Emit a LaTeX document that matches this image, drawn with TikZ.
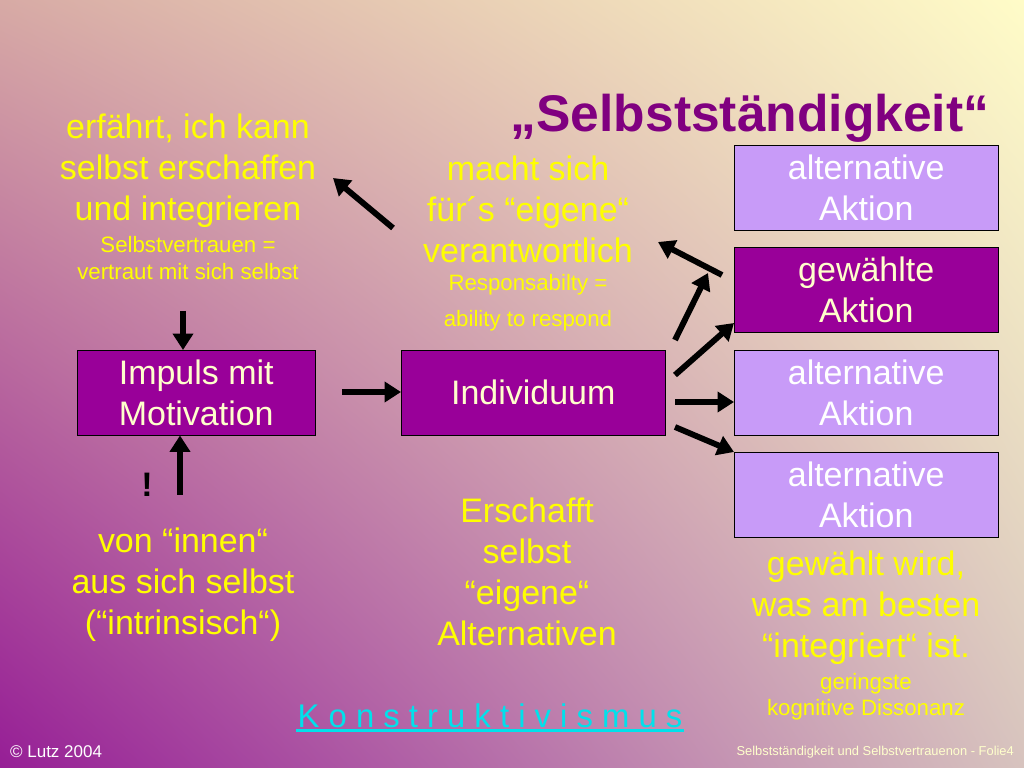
\documentclass[tikz,border=0pt]{standalone}
\usepackage{fontspec}
\setmainfont{Liberation Sans}
\usetikzlibrary{arrows.meta,shadings}
\definecolor{ylw}{RGB}{255,255,0}
\definecolor{dpur}{RGB}{153,0,153}
\definecolor{lpur}{RGB}{200,155,248}
\definecolor{ttl}{RGB}{128,0,128}
\definecolor{cyn}{RGB}{0,225,235}
\definecolor{cream}{RGB}{255,255,204}
\definecolor{bgbl}{RGB}{150,30,150}
\definecolor{bgtr}{RGB}{255,252,200}
\definecolor{bgtl}{RGB}{215,170,165}
\definecolor{bgbr}{RGB}{215,195,190}
\begin{document}
\begin{tikzpicture}[x=0.03cm,y=-0.03cm,
  big/.style={font=\fontsize{29}{35}\selectfont,align=center,text=ylw},
  small/.style={font=\fontsize{19}{23}\selectfont,align=center,text=ylw},
  dbox/.style={draw=black,fill=dpur,minimum width=264*0.03cm,minimum height=85*0.03cm,font=\fontsize{29}{35}\selectfont,align=center,text=cream,anchor=north west,inner sep=0pt},
  lbox/.style={dbox,fill=lpur,text=white},
  arr/.style={line width=5pt,-{Triangle[length=14pt,width=17pt]}}]
\shade[lower left=bgbl,upper right=bgtr,upper left=bgtl,lower right=bgbr] (0,768) rectangle (1024,0);
\useasboundingbox (0,0) rectangle (1024,768);
\node[font=\bfseries\fontsize{44}{50}\selectfont,text=ttl] (title) at (750,118) {„Selbstständigkeit“};
\node[dbox,minimum width=238*0.03cm] (imp) at (77,350) {Impuls mit\\Motivation};
\node[dbox] (ind) at (401,350) {Individuum};
\node[lbox] (a1) at (734,145) {alternative\\Aktion};
\node[dbox] (a2) at (734,247) {gewählte\\Aktion};
\node[lbox] (a3) at (734,350) {alternative\\Aktion};
\node[lbox] (a4) at (734,452) {alternative\\Aktion};
\node[big] (erf) at (188,171) {erfährt, ich kann\\selbst erschaffen\\und integrieren};
\node[small,font=\fontsize{19}{23}\selectfont] (sv) at (188,258) {Selbstvertrauen =\\vertraut mit sich selbst};
\node[big] (macht) at (528,209) {macht sich\\für´s “eigene“\\verantwortlich};
\node[small,font=\fontsize{19}{31}\selectfont] (resp) at (528,303) {Responsabilty =\\ability to respond};
\node[big] (innen) at (183,585) {von “innen“\\aus sich selbst\\(“intrinsisch“)};
\node[big] (ersch) at (527,572) {Erschafft\\selbst\\“eigene“\\Alternativen};
\node[big] (gew) at (866,608) {gewählt wird,\\was am besten\\“integriert“ ist.};
\node[small,font=\fontsize{19}{22}\selectfont] (ger) at (866,697) {geringste\\kognitive Dissonanz};
\node[font=\bfseries\fontsize{29}{30}\selectfont,text=black] (ex) at (147,485) {!};
\node[font=\fontsize{28}{30}\selectfont,text=cyn,inner sep=1pt] (kon) at (490,716) {K o n s t r u k t i v i s m u s};
\draw[cyn,line width=2pt] ([yshift=-1pt]kon.south west) -- ([yshift=-1pt]kon.south east);
\node[font=\fontsize{14.5}{16}\selectfont,text=white,anchor=west] (lutz) at (6,752) {© Lutz 2004};
\node[font=\fontsize{11}{13}\selectfont,text=cream,anchor=east] (fol) at (1018,752) {Selbstständigkeit und Selbstvertrauenon - Folie4};
\coordinate (p1) at (393,228); \coordinate (q1) at (333,178);
\draw[arr] (p1) -- (q1);
\coordinate (p2) at (183,311); \draw[arr] (p2) -- (imp.north -| p2);
\coordinate (p3) at (180,495); \draw[arr] (p3) -- (imp.south -| p3);
\coordinate (p4) at (342,392); \draw[arr] (p4) -- (ind.west |- p4);
\coordinate (p5) at (722,275); \coordinate (q5) at (658,242); \draw[arr] (p5) -- (q5);
\coordinate (p6) at (675,340); \coordinate (q6) at (708,273); \draw[arr] (p6) -- (q6);
\coordinate (p7) at (675,375); \draw[arr] (p7) -- (a2.west |- 0,323);
\coordinate (p8) at (675,402); \draw[arr] (p8) -- (a3.west |- p8);
\coordinate (p9) at (675,427); \draw[arr] (p9) -- (a4.west |- 0,452);
\end{tikzpicture}
\end{document}
